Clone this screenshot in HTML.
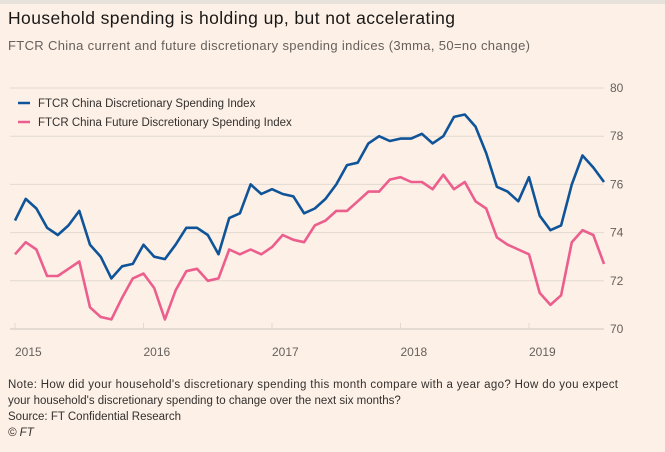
<!DOCTYPE html>
<html><head><meta charset="utf-8"><style>
body{margin:0;background:#fdf0e6;width:665px;height:452px;overflow:hidden;font-family:"Liberation Sans",sans-serif;}
svg{position:absolute;left:0;top:0}
</style></head><body>
<svg id="s" width="665" height="452" xmlns="http://www.w3.org/2000/svg">
<rect x="0" y="0" width="665" height="4" fill="#e8e2dd"/>
<text x="8" y="24" font-size="17.5" fill="#1a1817" font-family="Liberation Sans, sans-serif" textLength="447">Household spending is holding up, but not accelerating</text>
<text x="8" y="50" font-size="13" fill="#66605c" font-family="Liberation Sans, sans-serif" textLength="522">FTCR China current and future discretionary spending indices (3mma, 50=no change)</text>
<g id="grid" stroke="#e2d9d1" stroke-width="1"></g>
<g id="ylab" font-size="12" fill="#66605c" font-family="Liberation Sans, sans-serif"></g>
<g id="xlab" font-size="12" fill="#66605c" font-family="Liberation Sans, sans-serif"></g>
<line x1="18" y1="103" x2="30" y2="103" stroke="#0f5499" stroke-width="2.5"/>
<text x="38" y="107" font-size="11.5" fill="#33302e" font-family="Liberation Sans, sans-serif">FTCR China Discretionary Spending Index</text>
<line x1="18" y1="122" x2="30" y2="122" stroke="#eb5e8d" stroke-width="2.5"/>
<text x="38" y="126" font-size="11.5" fill="#33302e" font-family="Liberation Sans, sans-serif">FTCR China Future Discretionary Spending Index</text>
<polyline id="pink" fill="none" stroke="#eb5e8d" stroke-width="2.6" stroke-linejoin="round"/>
<polyline id="blue" fill="none" stroke="#0f5499" stroke-width="2.6" stroke-linejoin="round"/>
<g font-size="11.5" fill="#33302e" font-family="Liberation Sans, sans-serif">
<text x="8" y="388" textLength="610">Note: How did your household's discretionary spending this month compare with a year ago? How do you expect</text>
<text x="8" y="404">your household's discretionary spending to change over the next six months?</text>
<text x="8" y="420">Source: FT Confidential Research</text>
<text x="8" y="436" font-style="italic">© FT</text>
</g>
</svg>
<script>
var ns="http://www.w3.org/2000/svg";
function Y(v){return 88+(80-v)*24.1;}
function X(i){return 15+i*128.5/12;}
var g=document.getElementById('grid'),yl=document.getElementById('ylab'),xl=document.getElementById('xlab');
for(var v=70;v<=80;v+=2){var l=document.createElementNS(ns,'line');l.setAttribute('x1',10);l.setAttribute('x2',604);l.setAttribute('y1',Y(v));l.setAttribute('y2',Y(v));if(v==70)l.setAttribute('stroke','#cfc6bf');g.appendChild(l);
var t=document.createElementNS(ns,'text');t.setAttribute('x',610);t.setAttribute('y',Y(v)+4);t.textContent=v;yl.appendChild(t);}
for(var k=0;k<5;k++){var x=X(k*12);var l=document.createElementNS(ns,'line');l.setAttribute('x1',x);l.setAttribute('x2',x);l.setAttribute('y1',Y(70));l.setAttribute('y2',Y(70)-6);g.appendChild(l);
var t=document.createElementNS(ns,'text');t.setAttribute('x',x);t.setAttribute('y',356);t.textContent=2015+k;xl.appendChild(t);}
var b=[74.5,75.4,75.0,74.2,73.9,74.3,74.9,73.5,73.0,72.1,72.6,72.7,73.5,73.0,72.9,73.5,74.2,74.2,73.9,73.1,74.6,74.8,76.0,75.6,75.8,75.6,75.5,74.8,75.0,75.4,76.0,76.8,76.9,77.7,78.0,77.8,77.9,77.9,78.1,77.7,78.0,78.8,78.9,78.4,77.3,75.9,75.7,75.3,76.3,74.7,74.1,74.3,76.0,77.2,76.7,76.1];
var p=[73.1,73.6,73.3,72.2,72.2,72.5,72.8,70.9,70.5,70.4,71.3,72.1,72.3,71.7,70.4,71.6,72.4,72.5,72.0,72.1,73.3,73.1,73.3,73.1,73.4,73.9,73.7,73.6,74.3,74.5,74.9,74.9,75.3,75.7,75.7,76.2,76.3,76.1,76.1,75.8,76.4,75.8,76.1,75.3,75.0,73.8,73.5,73.3,73.1,71.5,71.0,71.4,73.6,74.1,73.9,72.7];
function pts(a){return a.map(function(v,i){return X(i).toFixed(1)+','+Y(v).toFixed(1)}).join(' ');}
document.getElementById('blue').setAttribute('points',pts(b));
document.getElementById('pink').setAttribute('points',pts(p));
</script>
</body></html>
